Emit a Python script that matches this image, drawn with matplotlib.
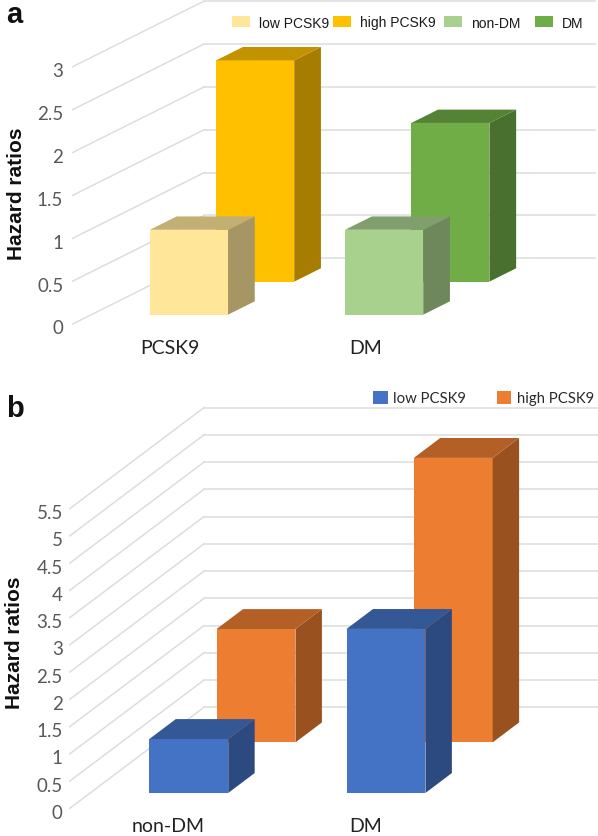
import numpy as np
import matplotlib
matplotlib.use("Agg")
import matplotlib.pyplot as plt
from matplotlib.colors import to_rgb
from matplotlib.patches import Patch
from matplotlib.transforms import ScaledTranslation

# ---- data ----
cats_a = ["PCSK9", "DM"]
front_a = [0.99, 0.99]
back_a = [2.58, 1.85]
yticks_a = [0, 0.5, 1, 1.5, 2, 2.5, 3]
legend_a = ["low PCSK9", "high PCSK9", "non-DM", "DM"]

cats_b = ["non-DM", "DM"]
front_b = [0.99, 3.01]
back_b = [2.08, 5.22]
yticks_b = [0, 0.5, 1, 1.5, 2, 2.5, 3, 3.5, 4, 4.5, 5, 5.5]
legend_b = ["low PCSK9", "high PCSK9"]

# ---- layout ----
W, H = 598, 837
fig = plt.figure(figsize=(W / 100, H / 100), dpi=100)
fig.patch.set_facecolor("white")

SANS = ["Lato", "DejaVu Sans"]
BOLD = ["Liberation Sans", "DejaVu Sans"]
GRID = "#DDDDDD"
TICK = "#595959"


def shade(c, f):
    return tuple(v * f for v in to_rgb(c))


def fmt(v):
    return f"{v:g}"


def panel(left, right, y0, ytop, ymax, cats, yticks, front, back,
          front_cols, back_cols, dx_px, dy_px, f_depth, b_depth, bar_d,
          grid_end, pad_x, pad_y):
    ax = fig.add_axes([left / W, 1 - y0 / H, (right - left) / W, (y0 - ytop) / H])
    ax.set_xlim(-0.5, 1.5)
    ax.set_ylim(0, ymax)
    for s in ax.spines.values():
        s.set_visible(False)
    ax.patch.set_alpha(0)
    dx = dx_px / (right - left) * 2
    dy = dy_px / (y0 - ytop) * ymax

    ax.set_xticks(range(len(cats)), cats, fontfamily=SANS, fontsize=14, color="#222222")
    ax.set_yticks(yticks, [fmt(v) for v in yticks], fontfamily=SANS, fontsize=13.5,
                  color=TICK)
    ax.tick_params(axis="x", length=0, pad=pad_x)
    ax.tick_params(axis="y", length=0, pad=pad_y)
    shift = ScaledTranslation(0, -2.5 / 100, fig.dpi_scale_trans)
    for lab in ax.get_yticklabels():
        lab.set_transform(lab.get_transform() + shift)

    for v in yticks:
        ax.plot([-0.5, -0.5 + dx], [v, v + dy], color=GRID, lw=1.1, clip_on=False, zorder=1)
        ax.plot([-0.5 + dx, grid_end + dx], [v + dy, v + dy], color=GRID, lw=1.1,
                clip_on=False, zorder=1)

    xs = np.arange(len(cats), dtype=float)
    width = 0.4
    z = 2
    for vals, cols, d in ((back, back_cols, b_depth), (front, front_cols, f_depth)):
        for x, v, c in zip(xs, vals, cols):
            cx = x + d * dx
            base = d * dy
            xl, xr = cx - width / 2, cx + width / 2
            ox, oy = bar_d * dx, bar_d * dy
            ax.bar(cx, v, width, bottom=base, color=c, clip_on=False, zorder=z, lw=0)
            ax.fill([xr, xr + ox, xr + ox, xr],
                    [base, base + oy, base + v + oy, base + v],
                    color=shade(c, 0.65), clip_on=False, zorder=z, lw=0)
            ax.fill([xl, xl + ox, xr + ox, xr],
                    [base + v, base + v + oy, base + v + oy, base + v],
                    color=shade(c, 0.76), clip_on=False, zorder=z, lw=0)
            z += 1
    return ax


def legend_entry(label, color, x_px, y_px, family, size, tcolor, hl, hh, pad):
    leg = fig.legend(handles=[Patch(facecolor=color, label=label, lw=0)],
                     loc="center left", bbox_to_anchor=(x_px / W, 1 - y_px / H),
                     frameon=False, borderpad=0, borderaxespad=0,
                     handlelength=hl, handleheight=hh, handletextpad=pad,
                     prop={"family": family, "size": size}, labelcolor=tcolor)
    return leg


ax_a = panel(72.7, 463.1, 325, 67.7, 3, cats_a, yticks_a, front_a, back_a,
             ["#FFE699", "#A9D18E"], ["#FFC000", "#70AD47"],
             131.6, 65.7, 0.142, 0.645, 0.203, 1.5, 10.8, 6.8)
ax_b = panel(69.8, 464.2, 809.3, 509.6, 5.5, cats_b, yticks_b, front_b, back_b,
             ["#4472C4", "#4472C4"], ["#ED7D31", "#ED7D31"],
             134.2, 101, 0.152, 0.653, 0.197, 1.5, 6.5, 5)

for ax, yc, xc in ((ax_a, 194, 17), (ax_b, 643, 14.6)):
    ax.set_ylabel("Hazard ratios", family=BOLD, fontweight="bold", fontsize=15,
                  color="#111111", va="center")
    ax.yaxis.set_label_coords(xc / W, 1 - yc / H, transform=fig.transFigure)

fig.text(14.5 / W, 1 - 15 / H, "a", family=BOLD, fontweight="bold", fontsize=21,
         ha="center", va="center", color="#111111")
fig.text(15 / W, 1 - 409 / H, "b", family=BOLD, fontweight="bold", fontsize=21,
         ha="center", va="center", color="#111111")

a_cols = ["#FFE699", "#FFC000", "#A9D18E", "#70AD47"]
a_xs = [232, 333, 443.5, 535]
for lab, col, x in zip(legend_a, a_cols, a_xs):
    legend_entry(lab, col, x, 23.5, BOLD, 10, "#1A1A1A", 1.3, 0.8, 0.65)

b_cols = ["#4472C4", "#ED7D31"]
b_xs = [373.4, 496.6]
for lab, col, x in zip(legend_b, b_cols, b_xs):
    legend_entry(lab, col, x, 399, SANS, 10.7, "#2A2A2A", 0.95, 0.95, 0.4)

fig.savefig("out.png", dpi=100)
